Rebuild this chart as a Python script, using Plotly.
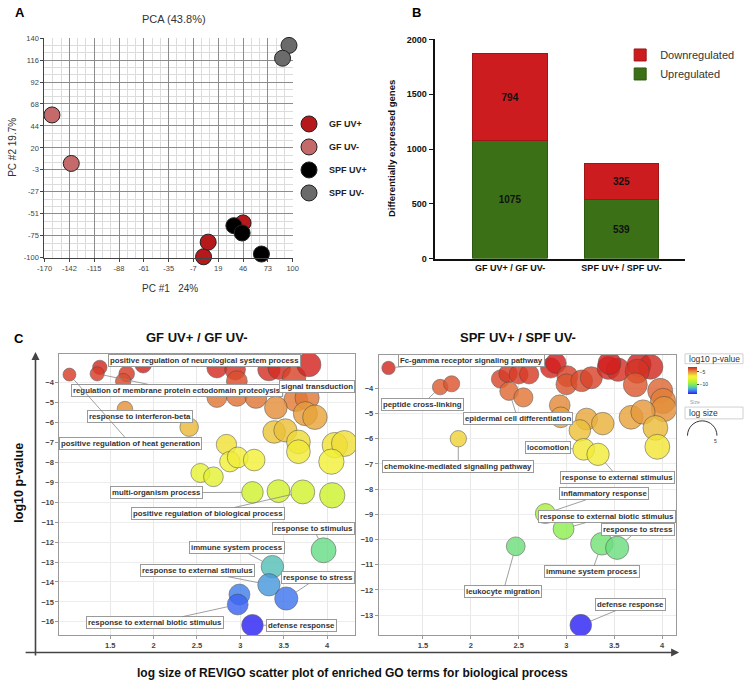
import plotly.graph_objects as go

W, H = 749, 687

# ---------------- Panel A: PCA ----------------
pca_groups = ["GF UV+", "GF UV-", "SPF UV+", "SPF UV-"]
pca_colors = ["#b5191c", "#c46a6a", "#000000", "#6b6b6b"]
gf_uvp_pc1 = [3, 8, 46]
gf_uvp_pc2 = [-99, -83, -62]
gf_uvm_pc1 = [-162, -141]
gf_uvm_pc2 = [56, 3]
spf_uvp_pc1 = [36, 45, 66]
spf_uvp_pc2 = [-65, -73, -96]
spf_uvm_pc1 = [96, 89, 101]
spf_uvm_pc2 = [132, 118, 111]
pca_xtick_vals = [-170, -143, -116, -89, -62, -35, -8, 19, 46, 73, 100]
pca_xtick_text = ["-170", "-142", "-115", "-88", "-61", "-35", "-7", "19", "46", "73", "100"]
pca_ytick_vals = [140, 116, 92, 68, 44, 20, -4, -28, -52, -76, -100]
pca_ytick_text = ["140", "116", "92", "68", "44", "20", "-3", "-27", "-51", "-75", "-100"]

# ---------------- Panel B: DEG bars ----------------
bar_categories = ["GF UV+ / GF UV-", "SPF UV+ / SPF UV-"]
upregulated = [1075, 539]
downregulated = [794, 325]
bar_yticks = [0, 500, 1000, 1500, 2000]

# ---------------- Panel C: REVIGO ----------------
gf_logsize = [1.03, 1.38, 1.35, 1.69, 1.65, 1.88, 1.67, 2.41, 2.73, 2.94, 2.96, 2.73, 2.96, 3.18,
              3.33, 3.45, 3.62, 3.79, 3.64, 3.77, 3.75, 3.86, 3.41, 3.39, 3.52, 3.67, 3.67, 2.84,
              2.88, 2.97, 3.16, 4.09, 4.20, 4.05, 2.54, 2.69, 3.14, 3.44, 3.72, 4.06, 3.96, 3.37,
              3.33, 3.53, 2.99, 2.97, 3.14]
gf_logp = [-3.59, -3.23, -3.55, -3.55, -3.92, -3.10, -5.32, -6.23, -3.26, -3.34, -3.92, -4.74,
           -4.66, -4.74, -3.34, -3.26, -3.75, -3.09, -4.85, -4.75, -5.55, -5.73, -5.25, -6.47,
           -6.39, -6.97, -7.46, -7.10, -7.96, -7.75, -7.88, -7.13, -7.05, -7.96, -8.53, -8.72,
           -9.50, -9.44, -9.48, -9.65, -12.41, -13.23, -14.14, -14.83, -14.63, -15.13, -16.17]
gf_label_text = ["positive regulation of neurological system process",
                 "regulation of membrane protein ectodomain proteolysis",
                 "signal transduction", "response to interferon-beta",
                 "positive regulation of heat generation", "multi-organism process",
                 "positive regulation of biological process", "response to stimulus",
                 "immune system process", "response to external stimulus",
                 "response to stress", "response to external biotic stimulus",
                 "defense response"]
gf_label_idx = [None, 2, None, 6, 0, 36, 38, 40, 41, 42, 43, 45, 46]
gf_label_x = [2.583, 2.269, 3.885, 1.846, 1.733, 2.033, 2.63, 3.844, 2.965, 2.507, 3.896, 2.02, 3.702]
gf_label_y = [-2.88, -4.38, -4.20, -5.68, -7.05, -9.52, -10.56, -11.30, -12.28, -13.43, -13.78, -16.04, -16.17]

spf_logsize = [1.14, 1.68, 1.80, 2.31, 2.39, 2.50, 2.61, 2.40, 2.55, 1.87, 2.835, 2.89, 3.01, 3.00,
               3.16, 3.26, 3.44, 3.54, 3.45, 3.76, 3.88, 3.74, 3.72, 3.98, 4.01, 4.02, 2.93, 2.94,
               3.21, 3.38, 3.675, 3.80, 3.93, 3.14, 3.18, 3.33, 3.95, 2.78, 2.97, 2.47, 3.37, 3.53,
               3.15]
spf_logp = [-3.19, -3.95, -3.82, -3.63, -3.41, -3.45, -3.44, -4.11, -4.36, -6.00, -3.19, -3.00,
            -3.52, -3.84, -3.70, -3.58, -3.19, -3.26, -3.00, -3.06, -3.15, -3.32, -3.86, -4.10,
            -4.50, -4.82, -4.67, -5.15, -5.22, -5.40, -5.15, -4.94, -5.57, -5.67, -6.42, -6.62,
            -6.32, -8.97, -9.58, -10.27, -10.17, -10.33, -13.40]
spf_label_text = ["Fc-gamma receptor signaling pathway", "peptide cross-linking",
                  "epidermal cell differentiation", "chemokine-mediated signaling pathway",
                  "locomotion", "response to external stimulus", "inflammatory response",
                  "response to external biotic stimulus", "response to stress",
                  "immune system process", "leukocyte migration", "defense response"]
spf_label_idx = [0, 1, 7, 9, 34, 35, 37, 38, 41, 40, 39, 42]
spf_label_x = [2.005, 1.497, 2.491, 1.869, 2.807, 3.538, 3.389, 3.423, 3.752, 3.267, 2.339, 3.669]
spf_label_y = [-2.89, -4.63, -5.21, -7.10, -6.35, -7.53, -8.19, -9.09, -9.62, -11.28, -12.06, -12.58]

revigo_xticks = [1.5, 2, 2.5, 3, 3.5, 4]
gf_yticks = [-4, -5, -6, -7, -8, -9, -10, -11, -12, -13, -14, -15, -16]
spf_yticks = [-4, -5, -6, -7, -8, -9, -10, -11, -12, -13]

FONT = "Liberation Sans, Arial, sans-serif"


def px_x(p):
    return p / W


def px_y(p):
    return 1 - p / H


def bubble_size(v):
    return 8.7 + 4.1 * v


revigo_scale = [[0, '#2b1cf5'], [0.1, '#3d6ff0'], [0.2, '#4fb0d0'], [0.28, '#62d98e'],
                [0.38, '#92f04e'], [0.5, '#cdf22e'], [0.62, '#f2f23a'], [0.68, '#f2e838'],
                [0.74, '#ecc43a'], [0.82, '#e6963c'], [0.9, '#df6434'], [1, '#d21f1f']]

fig = go.Figure()

# PCA traces
pca_x_lists = [gf_uvp_pc1, gf_uvm_pc1, spf_uvp_pc1, spf_uvm_pc1]
pca_y_lists = [gf_uvp_pc2, gf_uvm_pc2, spf_uvp_pc2, spf_uvm_pc2]
for g, c, xs, ys in zip(pca_groups, pca_colors, pca_x_lists, pca_y_lists):
    fig.add_trace(go.Scatter(x=xs, y=ys, mode="markers", name=g, legend="legend",
                             legendgroup=g, xaxis="x", yaxis="y", cliponaxis=False,
                             marker=dict(size=16, color=c, line=dict(color="#222", width=1))))

# Bar traces
fig.add_trace(go.Bar(x=bar_categories, y=upregulated, name="Upregulated", legend="legend2",
                     xaxis="x2", yaxis="y2", width=0.67,
                     marker=dict(color="#3b7017", line=dict(color="#2d5a10", width=1)),
                     text=[str(v) for v in upregulated], textposition="inside",
                     insidetextanchor="middle", constraintext="none",
                     textfont=dict(size=10, color="#111", family=FONT, weight="bold")))
fig.add_trace(go.Bar(x=bar_categories, y=downregulated, name="Downregulated", legend="legend2",
                     xaxis="x2", yaxis="y2", width=0.67,
                     marker=dict(color="#cc1c20", line=dict(color="#a01518", width=1)),
                     text=[str(v) for v in downregulated], textposition="inside",
                     insidetextanchor="middle", constraintext="none",
                     textfont=dict(size=10, color="#111", family=FONT, weight="bold")))

# REVIGO scatters
fig.add_trace(go.Scatter(x=gf_logsize, y=gf_logp, mode="markers", showlegend=False,
                         xaxis="x3", yaxis="y3",
                         marker=dict(size=[bubble_size(v) for v in gf_logsize], color=gf_logp,
                                     coloraxis="coloraxis", opacity=0.82,
                                     line=dict(color="rgba(70,70,70,0.6)", width=1))))
fig.add_trace(go.Scatter(x=spf_logsize, y=spf_logp, mode="markers", showlegend=False,
                         xaxis="x4", yaxis="y4",
                         marker=dict(size=[bubble_size(v) for v in spf_logsize], color=spf_logp,
                                     coloraxis="coloraxis2", opacity=0.82,
                                     line=dict(color="rgba(70,70,70,0.6)", width=1))))

annotations = []


def txt(text, x, y, size, bold=False, angle=0, color="#222", xanchor="center"):
    annotations.append(dict(text=text, x=px_x(x), y=px_y(y), xref="paper", yref="paper",
                            showarrow=False, textangle=angle, xanchor=xanchor, yanchor="middle",
                            font=dict(size=size, color=color, family=FONT,
                                      weight="bold" if bold else "normal")))


txt("A", 13.5, 8, 13, True, color="#000")
txt("B", 417, 8, 13, True, color="#000")
txt("C", 12.5, 338, 13, True, color="#000")
txt("PCA (43.8%)", 170, 14, 11, color="#333")
txt("PC #2 19.7%", 6, 144, 10, angle=-90, color="#333")
txt("PC #1   24%", 166, 288, 10, color="#333")
txt("Differentially expressed genes", 392, 146, 9.5, True, angle=-90, color="#111")
txt("GF UV+ / GF UV-", 193, 337, 13, True, color="#111")
txt("SPF UV+ / SPF UV-", 520, 337, 13, True, color="#111")
txt("log10 p-value", 12, 485, 12.5, True, angle=-90, color="#111")
txt("log size of REVIGO scatter plot of enriched GO terms for biological process",
    352, 678, 12, True, color="#111")
# size/colour legend texts
txt("log10 p-value", 692, 359, 8.5, color="#333", xanchor="left")
txt("Size", 693, 403, 5, color="#999", xanchor="left")
txt("log size", 692, 414, 8.5, color="#333", xanchor="left")
txt("5", 721.5, 442, 5, color="#333")

# panel C arrows
annotations.append(dict(x=px_x(29), y=px_y(352), xref="paper", yref="paper", ax=0, ay=305,
                        showarrow=True, arrowhead=2, arrowsize=1, arrowwidth=1.6,
                        arrowcolor="#444", text=""))
annotations.append(dict(x=px_x(684), y=px_y(657), xref="paper", yref="paper", ax=-655, ay=0,
                        showarrow=True, arrowhead=2, arrowsize=1, arrowwidth=1.6,
                        arrowcolor="#444", text=""))


def go_labels(texts, idxs, lx, ly, xs, ys, xr, yr):
    for t, i, ax, ay in zip(texts, idxs, lx, ly):
        base = dict(text=t, bgcolor="white", bordercolor="#9a9a9a", borderwidth=1, borderpad=1,
                    font=dict(size=7.8, color="#333", family=FONT, weight="bold"))
        if i is None:
            base.update(x=ax, y=ay, xref=xr, yref=yr, showarrow=False)
        else:
            base.update(x=xs[i], y=ys[i], xref=xr, yref=yr, ax=ax, ay=ay, axref=xr, ayref=yr,
                        showarrow=True, arrowhead=0, arrowwidth=0.8, arrowcolor="#888",
                        standoff=bubble_size(xs[i]) / 2)
        annotations.append(base)


go_labels(gf_label_text, gf_label_idx, gf_label_x, gf_label_y, gf_logsize, gf_logp, "x3", "y3")
go_labels(spf_label_text, spf_label_idx, spf_label_x, spf_label_y, spf_logsize, spf_logp, "x4", "y4")

# decorative legend boxes + size arc
shapes = [
    dict(type="rect", xref="paper", yref="paper", x0=px_x(690), x1=px_x(749), y0=px_y(364),
         y1=px_y(354), line=dict(color="#d0d0d0", width=1)),
    dict(type="rect", xref="paper", yref="paper", x0=px_x(690), x1=px_x(749), y0=px_y(420),
         y1=px_y(408), line=dict(color="#d0d0d0", width=1)),
]
cx, cy, r, k = 707.5, 437, 15, 0.5523
pts = [(cx - r, cy), (cx - r, cy - k * r), (cx - k * r, cy - r), (cx, cy - r),
       (cx + k * r, cy - r), (cx + r, cy - k * r), (cx + r, cy)]
pp = [(px_x(a), px_y(b)) for a, b in pts]
path = "M{:.5f},{:.5f} C{:.5f},{:.5f} {:.5f},{:.5f} {:.5f},{:.5f} C{:.5f},{:.5f} {:.5f},{:.5f} {:.5f},{:.5f}".format(
    *[c for p in pp for c in p])
shapes.append(dict(type="path", xref="paper", yref="paper", path=path,
                   line=dict(color="#333", width=1)))

tick_font_small = dict(size=7.5, color="#444", family=FONT)
rev_tick_font = dict(size=7.5, color="#444", family=FONT, weight="bold")

fig.update_layout(
    width=W, height=H, margin=dict(l=0, r=0, t=0, b=0),
    paper_bgcolor="white", plot_bgcolor="white", barmode="stack",
    font=dict(family=FONT),
    annotations=annotations, shapes=shapes,
    xaxis=dict(domain=[px_x(38), px_x(291)], range=[-170.3, 100.3], tickvals=pca_xtick_vals,
               ticktext=pca_xtick_text, tickfont=tick_font_small, showgrid=True,
               gridcolor="#8c8c8c", gridwidth=1, zeroline=False, showline=True,
               linecolor="#444", ticks="outside", ticklen=3, tickcolor="#444",
               minor=dict(tick0=-170, dtick=9, showgrid=True, gridcolor="#dcdcdc"),
               anchor="y"),
    yaxis=dict(domain=[px_y(256.7), px_y(33.3)], range=[-100.3, 140.3], tickvals=pca_ytick_vals,
               ticktext=pca_ytick_text, tickfont=tick_font_small, showgrid=True,
               gridcolor="#8c8c8c", gridwidth=1, zeroline=False, showline=True,
               linecolor="#444", ticks="outside", ticklen=3, tickcolor="#444",
               minor=dict(tick0=-100, dtick=8, showgrid=True, gridcolor="#dcdcdc"),
               anchor="x"),
    xaxis2=dict(domain=[px_x(436), px_x(690)], range=[-0.67, 1.57], anchor="y2",
                showline=True, linecolor="#111", linewidth=1.5, ticks="",
                tickfont=dict(size=9, color="#111", family=FONT, weight="bold"),
                showgrid=False, zeroline=False),
    yaxis2=dict(domain=[px_y(257.3), px_y(35)], range=[0, 2000], anchor="x2",
                tickvals=bar_yticks, showline=True, linecolor="#111", linewidth=1.5,
                ticks="outside", ticklen=5, tickcolor="#111",
                tickfont=dict(size=9, color="#111", family=FONT, weight="bold"),
                showgrid=False, zeroline=False),
    xaxis3=dict(domain=[px_x(53.3), px_x(354.3)], range=[0.914, 4.324], anchor="y3",
                tickvals=revigo_xticks, tickfont=rev_tick_font, showgrid=True,
                gridcolor="#e8e8e8", zeroline=False, showline=True, mirror=True,
                linecolor="#999", ticks="outside", ticklen=3, tickcolor="#999"),
    yaxis3=dict(domain=[px_y(639.3), px_y(354)], range=[-16.66, -2.55], anchor="x3",
                tickvals=gf_yticks, tickfont=rev_tick_font, showgrid=True,
                gridcolor="#ededed", zeroline=False, showline=True, mirror=True,
                linecolor="#999", ticks="outside", ticklen=3, tickcolor="#999"),
    xaxis4=dict(domain=[px_x(378.3), px_x(680.7)], range=[1.038, 4.144], anchor="y4",
                tickvals=revigo_xticks, tickfont=rev_tick_font, showgrid=True,
                gridcolor="#e8e8e8", zeroline=False, showline=True, mirror=True,
                linecolor="#999", ticks="outside", ticklen=3, tickcolor="#999"),
    yaxis4=dict(domain=[px_y(639.3), px_y(355)], range=[-13.79, -2.67], anchor="x4",
                tickvals=spf_yticks, tickfont=rev_tick_font, showgrid=True,
                gridcolor="#ededed", zeroline=False, showline=True, mirror=True,
                linecolor="#999", ticks="outside", ticklen=3, tickcolor="#999"),
    coloraxis=dict(colorscale=revigo_scale, cmin=-16.3, cmax=-3.0, showscale=False),
    coloraxis2=dict(colorscale=revigo_scale, cmin=-13.5, cmax=-3.0, showscale=True,
                    colorbar=dict(x=px_x(693), xanchor="left", y=px_y(367), yanchor="top",
                                  len=27, lenmode="pixels", thickness=9, thicknessmode="pixels",
                                  tickvals=[-5, -10], ticks="outside", ticklen=2,
                                  tickfont=dict(size=5, color="#333"), outlinewidth=0,
                                  xpad=0, ypad=0)),
    legend=dict(x=px_x(287), y=px_y(106), xanchor="left", yanchor="top",
                traceorder="grouped", tracegroupgap=4, bgcolor="rgba(0,0,0,0)",
                font=dict(size=9, color="#222", family=FONT, weight="bold")),
    legend2=dict(x=px_x(624), y=px_y(36), xanchor="left", yanchor="top",
                 traceorder="reversed", bgcolor="rgba(0,0,0,0)",
                 font=dict(size=11, color="#333", family=FONT)),
)

fig.write_html("out.html", config={"displayModeBar": False},
               post_script="document.body.style.margin='0';document.body.style.overflow='hidden';")
